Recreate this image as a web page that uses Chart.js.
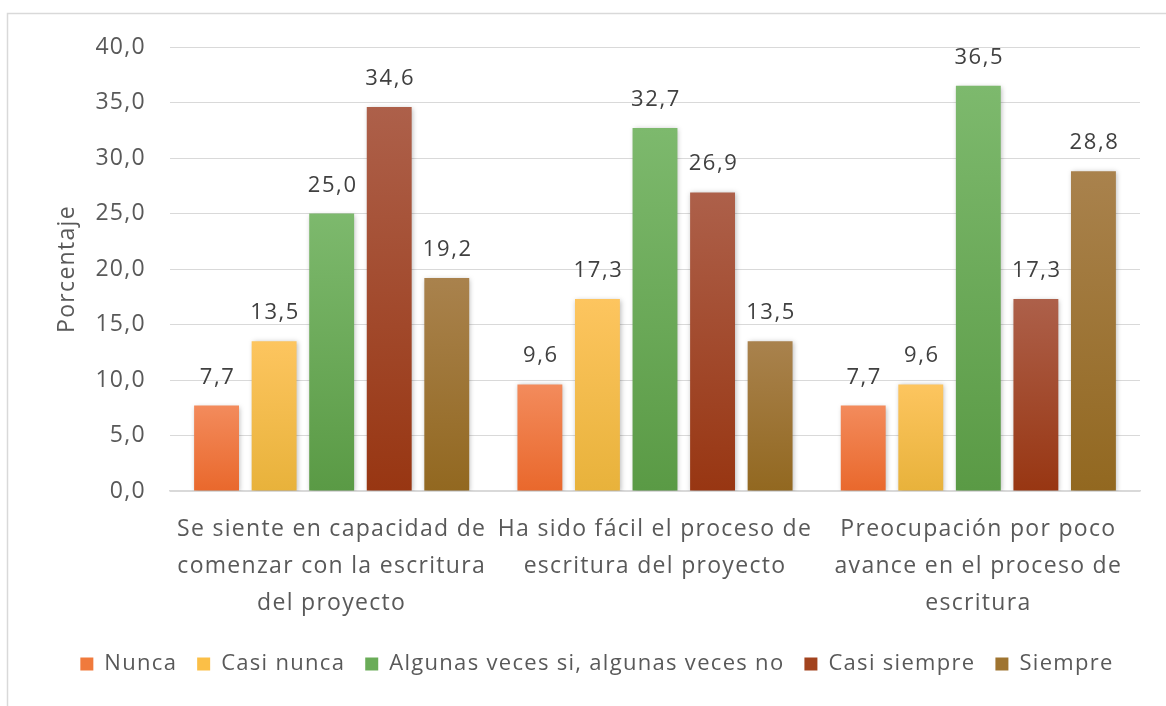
<!DOCTYPE html>
<html>
<head>
<meta charset="utf-8">
<script src="https://cdn.jsdelivr.net/npm/chart.js@4.4.1/dist/chart.umd.min.js"></script>
<style>
  html, body { margin: 0; padding: 0; background: #ffffff; }
  #wrap { position: relative; width: 1166px; height: 706px; }
</style>
</head>
<body>
<div id="wrap"><canvas id="c" width="1166" height="706"></canvas></div>
<script>
// ---- Data ----
const categories = [
  ["Se siente en capacidad de", "comenzar con la escritura", "del proyecto"],
  ["Ha sido fácil el proceso de", "escritura del proyecto"],
  ["Preocupación por poco", "avance en el proceso de", "escritura"]
];
const seriesNames = ["Nunca", "Casi nunca", "Algunas veces si, algunas veces no", "Casi siempre", "Siempre"];
const nunca        = [7.7, 9.6, 7.7];
const casiNunca    = [13.5, 17.3, 9.6];
const algunasVeces = [25.0, 32.7, 36.5];
const casiSiempre  = [34.6, 26.9, 17.3];
const siempre      = [19.2, 13.5, 28.8];
const yTicks = [0, 5, 10, 15, 20, 25, 30, 35, 40];

// ---- Styles ----
const topColors    = ["#f38b5c", "#fdc55f", "#7db96d", "#ad604a", "#a9824d"];
const bottomColors = ["#e9682c", "#e8b23b", "#5a9a45", "#983612", "#926820"];
const legendColors = ["#f07a3c", "#fbbf47", "#6aac58", "#a2431e", "#9f7430"];
const FONT = "'Open Sans', 'Noto Sans', sans-serif";
const TXT = "#595959";
const SPACING = "1.3px";

const fmt = v => Number(v).toFixed(1).replace('.', ',');

function gradFor(i) {
  return function (ctx) {
    const chart = ctx.chart;
    if (!chart.chartArea || ctx.parsed === undefined || ctx.parsed.y === undefined) return legendColors[i];
    const y = chart.scales.y;
    const top = y.getPixelForValue(ctx.parsed.y);
    const bot = y.getPixelForValue(0);
    if (!isFinite(top) || !isFinite(bot) || top === bot) return legendColors[i];
    const g = chart.ctx.createLinearGradient(0, top, 0, bot);
    g.addColorStop(0, topColors[i]);
    g.addColorStop(1, bottomColors[i]);
    return g;
  };
}

const allSeries = [nunca, casiNunca, algunasVeces, casiSiempre, siempre];
const datasets = allSeries.map((vals, i) => ({
  label: seriesNames[i],
  data: vals,
  backgroundColor: gradFor(i),
  borderWidth: 0,
  categoryPercentage: 0.89,
  barPercentage: 0.78
}));

const spacingPlugin = {
  id: 'spacing',
  beforeUpdate(chart) { chart.ctx.letterSpacing = SPACING; },
  beforeLayout(chart) { chart.ctx.letterSpacing = SPACING; },
  beforeDraw(chart) { chart.ctx.letterSpacing = SPACING; }
};

const framePlugin = {
  id: 'frame',
  beforeDraw(chart) {
    const c = chart.ctx;
    c.save();
    c.strokeStyle = '#d9d9d9';
    c.lineWidth = 1.5;
    c.beginPath();
    c.moveTo(7.5, 706);
    c.lineTo(7.5, 13.5);
    c.lineTo(1166, 13.5);
    c.stroke();
    c.restore();
  }
};

const shadowPlugin = {
  id: 'barShadow',
  beforeDatasetDraw(chart) {
    const c = chart.ctx;
    c.shadowColor = 'rgba(0,0,0,0.28)';
    c.shadowBlur = 5;
    c.shadowOffsetX = 1;
    c.shadowOffsetY = 1;
  },
  afterDatasetDraw(chart) {
    const c = chart.ctx;
    c.shadowColor = 'rgba(0,0,0,0)';
    c.shadowBlur = 0;
    c.shadowOffsetX = 0;
    c.shadowOffsetY = 0;
  }
};

const labelPlugin = {
  id: 'valueLabels',
  afterDatasetsDraw(chart) {
    const c = chart.ctx;
    c.save();
    c.letterSpacing = "1.6px";
    c.font = "22px " + FONT;
    c.fillStyle = "#404040";
    c.textAlign = 'center';
    c.textBaseline = 'alphabetic';
    chart.data.datasets.forEach((ds, di) => {
      const meta = chart.getDatasetMeta(di);
      meta.data.forEach((bar, idx) => {
        c.fillText(fmt(ds.data[idx]), bar.x + 1, bar.y - 22);
      });
    });
    c.restore();
  }
};

new Chart(document.getElementById('c'), {
  type: 'bar',
  data: { labels: categories, datasets },
  plugins: [spacingPlugin, framePlugin, shadowPlugin, labelPlugin],
  options: {
    responsive: false,
    animation: false,
    devicePixelRatio: 1,
    layout: { padding: { left: 54, right: 26, top: 47, bottom: 21 } },
    plugins: {
      tooltip: { enabled: false },
      legend: {
        position: 'bottom',
        labels: {
          font: { family: FONT, size: 22 },
          color: TXT,
          boxWidth: 13,
          boxHeight: 13,
          padding: 20,
          generateLabels(chart) {
            return chart.data.datasets.map((ds, i) => ({
              text: ds.label,
              fillStyle: legendColors[i],
              strokeStyle: legendColors[i],
              lineWidth: 0,
              hidden: false,
              datasetIndex: i,
              fontColor: TXT
            }));
          }
        }
      }
    },
    scales: {
      x: {
        grid: { display: false, drawTicks: false },
        border: { display: true, color: '#d9d9d9', width: 1.5 },
        ticks: {
          color: TXT,
          font: { family: FONT, size: 23, lineHeight: 1.6 },
          padding: 20,
          maxRotation: 0,
          autoSkip: false
        },
        afterFit(scale) { scale.height = 142; }
      },
      y: {
        min: 0,
        max: 40,
        afterBuildTicks(scale) { scale.ticks = yTicks.map(v => ({ value: v })); },
        grid: { color: '#d9d9d9', lineWidth: 1, drawTicks: false },
        border: { display: false },
        ticks: {
          color: TXT,
          font: { family: FONT, size: 23 },
          padding: 24,
          callback: v => fmt(v)
        },
        title: {
          display: true,
          text: 'Porcentaje',
          color: TXT,
          font: { family: FONT, size: 23 },
          padding: { top: 0, bottom: 0 }
        },
        afterFit(scale) { scale.width = 116; }
      }
    }
  }
});
</script>
</body>
</html>
